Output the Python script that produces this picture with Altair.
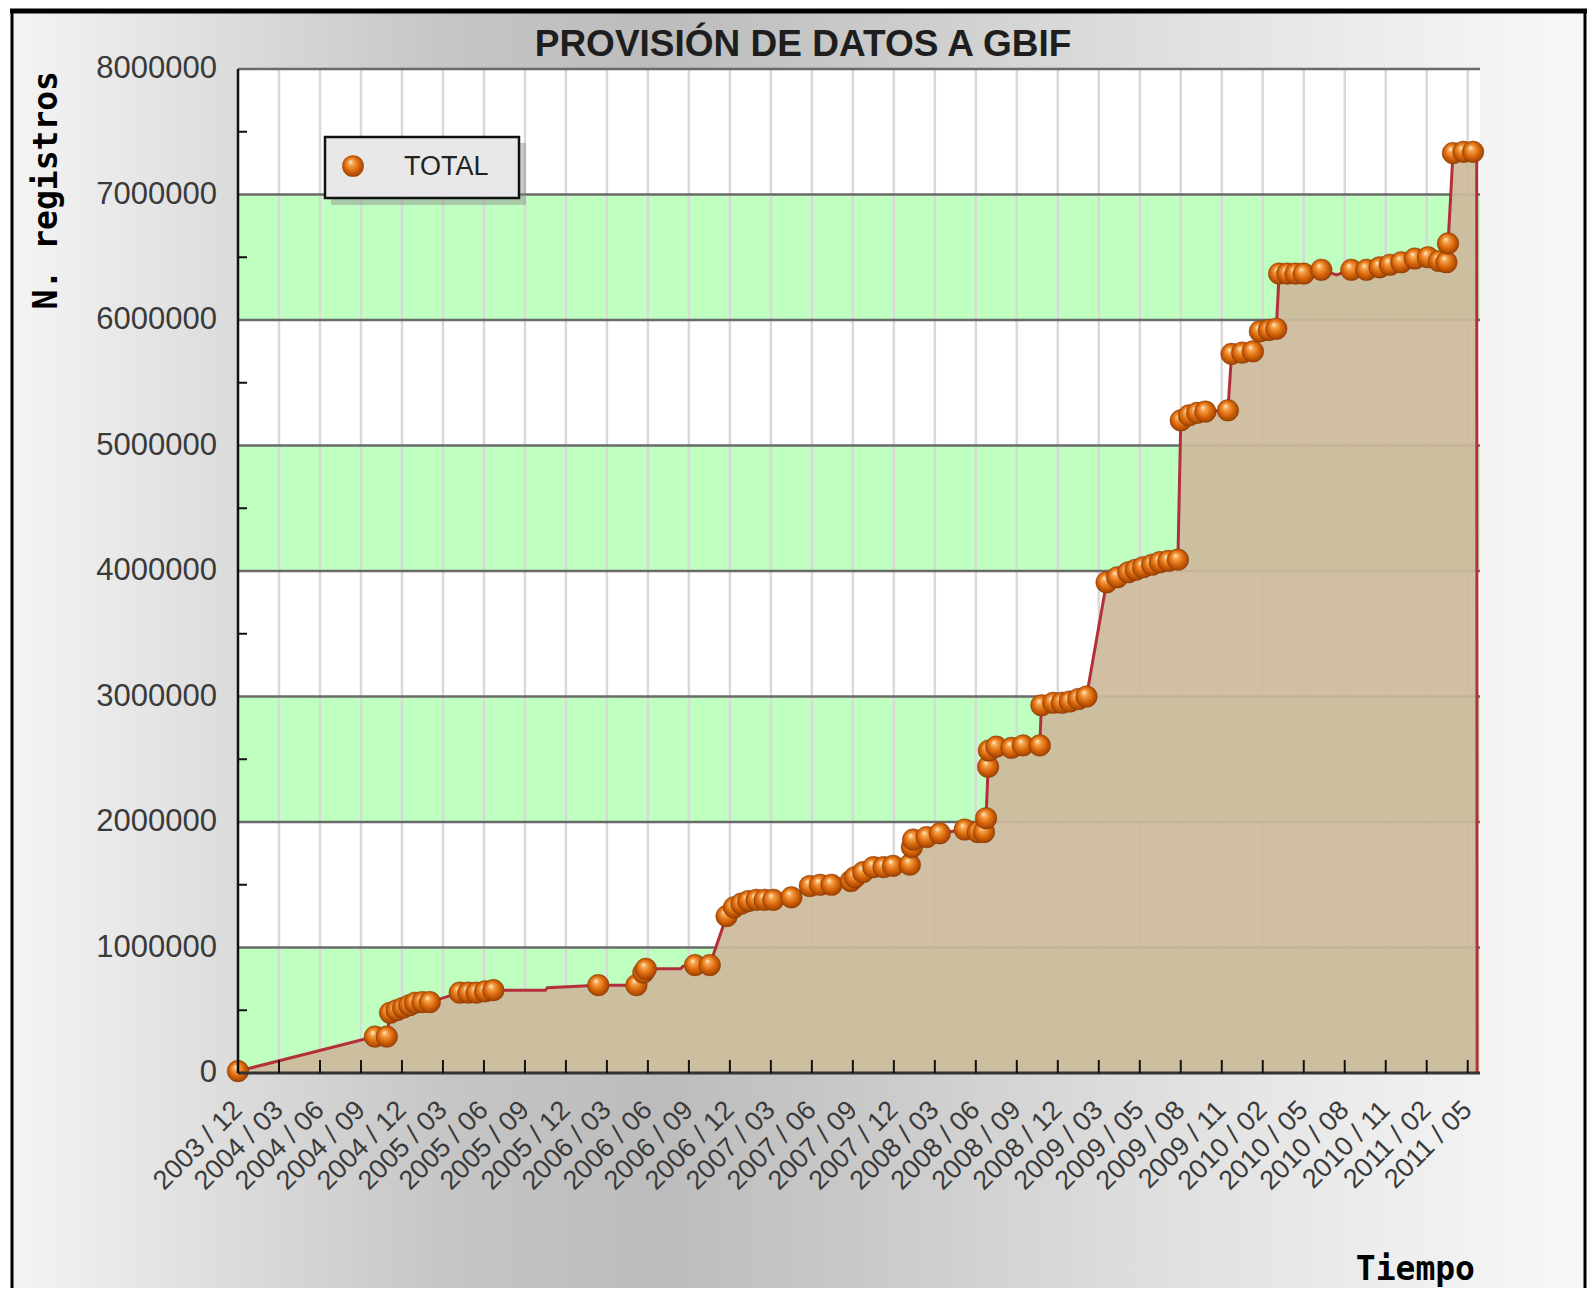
import altair as alt
import pandas as pd

W, H = 1242, 1004
PAD_R = 107

# ---------------- data ----------------
etiquetas_x = [
    "2003 / 12", "2004 / 03", "2004 / 06", "2004 / 09", "2004 / 12",
    "2005 / 03", "2005 / 06", "2005 / 09", "2005 / 12", "2006 / 03",
    "2006 / 06", "2006 / 09", "2006 / 12", "2007 / 03", "2007 / 06",
    "2007 / 09", "2007 / 12", "2008 / 03", "2008 / 06", "2008 / 09",
    "2008 / 12", "2009 / 03", "2009 / 05", "2009 / 08", "2009 / 11",
    "2010 / 02", "2010 / 05", "2010 / 08", "2010 / 11", "2011 / 02",
    "2011 / 05",
]
posiciones_ticks = list(range(len(etiquetas_x)))

# position along the time axis (in tick units) and cumulative records
posicion = [
    0.00, 3.34, 3.63, 3.71, 3.87, 4.03, 4.18, 4.32, 4.50, 4.68,
    5.41, 5.62, 5.82, 6.03, 6.23, 7.50, 7.55, 8.79, 9.72, 9.89,
    9.95, 10.80, 10.85, 11.15, 11.51, 11.92, 12.10, 12.28, 12.45, 12.65,
    12.85, 13.06, 13.50, 13.95, 14.20, 14.48, 14.95, 15.05, 15.25, 15.50,
    15.75, 15.98, 16.39, 16.44, 16.47, 16.80, 17.12, 17.73, 18.05, 18.20,
    18.25, 18.30, 18.32, 18.50, 18.87, 19.15, 19.56, 19.60, 19.89, 20.10,
    20.29, 20.50, 20.70, 21.19, 21.45, 21.72, 21.90, 22.08, 22.30, 22.49,
    22.70, 22.93, 23.00, 23.20, 23.40, 23.60, 24.15, 24.24, 24.50, 24.76,
    24.93, 25.15, 25.33, 25.40, 25.60, 25.80, 26.00, 26.43, 26.80, 27.16,
    27.53, 27.85, 28.10, 28.38, 28.71, 29.03, 29.30, 29.48, 29.52, 29.58,
    29.64, 29.90, 30.13, 30.22, 30.23,
]
registros = [
    15000, 290000, 290000, 480000, 500000, 520000, 540000, 560000, 565000, 565000,
    640000, 640000, 640000, 650000, 660000, 660000, 680000, 700000, 700000, 800000,
    830000, 830000, 850000, 860000, 860000, 1250000, 1320000, 1350000, 1370000, 1380000,
    1380000, 1380000, 1400000, 1490000, 1500000, 1500000, 1530000, 1560000, 1600000, 1640000,
    1640000, 1650000, 1660000, 1800000, 1860000, 1880000, 1910000, 1940000, 1920000, 1920000,
    2030000, 2440000, 2570000, 2600000, 2590000, 2610000, 2610000, 2930000, 2950000, 2950000,
    2960000, 2980000, 3000000, 3910000, 3950000, 3990000, 4010000, 4030000, 4050000, 4070000,
    4080000, 4090000, 5200000, 5240000, 5260000, 5270000, 5280000, 5730000, 5740000, 5750000,
    5910000, 5920000, 5930000, 6370000, 6370000, 6370000, 6370000, 6400000, 6360000, 6400000,
    6400000, 6420000, 6440000, 6460000, 6490000, 6500000, 6470000, 6460000, 6610000, 6960000,
    7330000, 7340000, 7340000, 7340000, 0,
]
# 1 = drawn with a marker, 0 = line vertex only
marcador = [
    1, 1, 1, 1, 1, 1, 1, 1, 1, 1,
    1, 1, 1, 1, 1, 0, 0, 1, 1, 1,
    1, 0, 0, 1, 1, 1, 1, 1, 1, 1,
    1, 1, 1, 1, 1, 1, 1, 1, 1, 1,
    1, 1, 1, 1, 1, 1, 1, 1, 1, 1,
    1, 1, 1, 1, 1, 1, 1, 1, 1, 1,
    1, 1, 1, 1, 1, 1, 1, 1, 1, 1,
    1, 1, 1, 1, 1, 1, 1, 1, 1, 1,
    1, 1, 1, 1, 1, 1, 1, 1, 0, 1,
    1, 1, 1, 1, 1, 1, 1, 1, 1, 0,
    1, 1, 1, 0, 0,
]

valores_y = [0, 1000000, 2000000, 3000000, 4000000, 5000000, 6000000, 7000000, 8000000]
lineas_h = [1000000, 2000000, 3000000, 4000000, 5000000, 6000000, 7000000, 8000000]
ticks_menores = [500000, 1500000, 2500000, 3500000, 4500000, 5500000, 6500000, 7500000]
bandas_ini = [0, 2000000, 4000000, 6000000]
bandas_fin = [1000000, 3000000, 5000000, 7000000]
lineas_v = list(range(1, len(etiquetas_x)))

serie = "TOTAL"
titulo = "PROVISIÓN DE DATOS A GBIF"
titulo_y = "N. registros"
titulo_x = "Tiempo"

# ---------------- tables ----------------
df = pd.DataFrame({"pos": posicion, "registros": registros, "marcador": marcador})
df_pts = df[df["marcador"] == 1]
df_bandas = pd.DataFrame({"ini": bandas_ini, "fin": bandas_fin})
df_h = pd.DataFrame({"y": lineas_h})
df_menor = pd.DataFrame({"y": ticks_menores})
df_yax = pd.DataFrame({"y": valores_y, "etiqueta": [str(v) for v in valores_y]})
df_v = pd.DataFrame({"u": lineas_v})
df_ticks = pd.DataFrame({"u": posiciones_ticks, "etiqueta": etiquetas_x})
uno = pd.DataFrame({"k": [0]})

SX = alt.Scale(domain=[0, 30.3], nice=False, zero=False)
SY = alt.Scale(domain=[0, 8000000], nice=False)

bola = {
    "gradient": "radial",
    "x1": 0.38, "y1": 0.3, "r1": 0.0,
    "x2": 0.5, "y2": 0.5, "r2": 0.58,
    "stops": [
        {"offset": 0.0, "color": "#fff1d6"},
        {"offset": 0.22, "color": "#f6a24a"},
        {"offset": 0.55, "color": "#dc6a0c"},
        {"offset": 1.0, "color": "#8a3400"},
    ],
}

fondo_grad = {
    "gradient": "linear",
    "x1": 0, "y1": 0, "x2": 1, "y2": 0,
    "stops": [
        {"offset": 0.0, "color": "#f4f4f4"},
        {"offset": 0.15, "color": "#dadada"},
        {"offset": 0.28, "color": "#c5c5c5"},
        {"offset": 0.41, "color": "#bcbcbc"},
        {"offset": 0.54, "color": "#c9c9c9"},
        {"offset": 0.70, "color": "#dcdcdc"},
        {"offset": 0.86, "color": "#ececec"},
        {"offset": 1.0, "color": "#f8f8f8"},
    ],
}

# ---------------- layers ----------------
fondo = alt.Chart(uno).mark_rect(fill=fondo_grad).encode(
    x=alt.value(-226), x2=alt.value(W + PAD_R - 2), y=alt.value(-60), y2=alt.value(H + 215)
)
bordes = alt.Chart(uno).mark_rule(color="#000000", strokeWidth=5).encode(
    x=alt.value(-228), x2=alt.value(W + PAD_R), y=alt.value(-58)
)
borde_izq = alt.Chart(uno).mark_rule(color="#000000", strokeWidth=3).encode(
    x=alt.value(-226), y=alt.value(-60), y2=alt.value(H + 215)
)
borde_der = alt.Chart(uno).mark_rule(color="#000000", strokeWidth=3).encode(
    x=alt.value(W + PAD_R - 2), y=alt.value(-60), y2=alt.value(H + 215)
)
fondo_plot = alt.Chart(uno).mark_rect(fill="#ffffff").encode(
    x=alt.value(0), x2=alt.value(W), y=alt.value(0), y2=alt.value(H)
)
bandas = alt.Chart(df_bandas).mark_rect(fill="#bfffbf").encode(
    x=alt.value(0), x2=alt.value(W),
    y=alt.Y("ini:Q", scale=SY, axis=None), y2="fin:Q",
)
rej_v = alt.Chart(df_v).mark_rule(color="#d9d9d9", strokeWidth=2.5).encode(
    x=alt.X("u:Q", scale=SX, axis=None), y=alt.value(0), y2=alt.value(H)
)
rej_h = alt.Chart(df_h).mark_rule(color="#6a6a6a", strokeWidth=2.5).encode(
    y=alt.Y("y:Q", scale=SY, axis=None), x=alt.value(0), x2=alt.value(W)
)
area = alt.Chart(df).mark_area(color="#ccba9c", opacity=0.93).encode(
    x=alt.X("pos:Q", scale=SX, axis=None),
    y=alt.Y("registros:Q", scale=SY, axis=None),
)
linea = alt.Chart(df).mark_line(color="#b3303a", strokeWidth=3).encode(
    x=alt.X("pos:Q", scale=SX, axis=None),
    y=alt.Y("registros:Q", scale=SY, axis=None),
)
puntos = alt.Chart(df_pts).mark_point(
    filled=True, fill=bola, shape="circle", size=470, opacity=1,
    stroke="#7a3000", strokeWidth=0.6, strokeOpacity=0.6,
).encode(
    x=alt.X("pos:Q", scale=SX, axis=None),
    y=alt.Y("registros:Q", scale=SY, axis=None),
)

# axes drawn from the tick arrays
dom_x = alt.Chart(uno).mark_rule(color="#333333", strokeWidth=3).encode(
    x=alt.value(0), x2=alt.value(W), y=alt.value(H)
)
dom_y = alt.Chart(uno).mark_rule(color="#111111", strokeWidth=2.5).encode(
    x=alt.value(0), y=alt.value(0), y2=alt.value(H)
)
ticks_x = alt.Chart(df_ticks).mark_rule(color="#111111", strokeWidth=2).encode(
    x=alt.X("u:Q", scale=SX, axis=None), y=alt.value(H), y2=alt.value(H - 13)
)
ticks_y = alt.Chart(df_menor).mark_rule(color="#111111", strokeWidth=2).encode(
    y=alt.Y("y:Q", scale=SY, axis=None), x=alt.value(0), x2=alt.value(9)
)
etiq_x = alt.Chart(df_ticks).mark_text(
    angle=315, align="right", baseline="middle", font="Liberation Sans",
    fontSize=27, color="#3a3a3a",
).encode(
    x=alt.X("u:Q", scale=SX, axis=None), y=alt.value(H + 33), text="etiqueta:N"
)
etiq_y = alt.Chart(df_yax).mark_text(
    align="right", baseline="middle", font="Liberation Sans",
    fontSize=31, color="#3a3a3a",
).encode(
    y=alt.Y("y:Q", scale=SY, axis=None), x=alt.value(-21), text="etiqueta:N"
)
tit_y = alt.Chart(uno).mark_text(
    text=titulo_y, angle=270, align="right", baseline="middle",
    font="DejaVu Sans Mono", fontSize=33, fontWeight="bold", color="#000000",
).encode(x=alt.value(-191), y=alt.value(2))
tit_x = alt.Chart(uno).mark_text(
    text=titulo_x, align="right", baseline="alphabetic",
    font="DejaVu Sans Mono", fontSize=33, fontWeight="bold", color="#000000",
).encode(x=alt.value(1237), y=alt.value(H + 207))

# legend
ley_sombra = alt.Chart(uno).mark_rect(fill="#8a8a8a", opacity=0.45).encode(
    x=alt.value(93), x2=alt.value(288), y=alt.value(74), y2=alt.value(136)
)
ley_caja = alt.Chart(uno).mark_rect(fill="#e8e8e8", stroke="#111111", strokeWidth=2.5).encode(
    x=alt.value(87), x2=alt.value(281), y=alt.value(68), y2=alt.value(129)
)
ley_bola = alt.Chart(uno).mark_point(
    filled=True, fill=bola, shape="circle", size=470, opacity=1
).encode(x=alt.value(115), y=alt.value(97))
ley_texto = alt.Chart(uno).mark_text(
    text=serie, font="Liberation Sans", fontSize=27, color="#222222",
    align="left", baseline="middle",
).encode(x=alt.value(166), y=alt.value(98))

texto_titulo = alt.Chart(uno).mark_text(
    text=titulo, font="Liberation Sans", fontSize=37, fontWeight="bold",
    color="#1e1e1e", align="center", baseline="alphabetic",
).encode(x=alt.value(565), y=alt.value(-13))

chart = alt.layer(
    fondo, borde_izq, borde_der, bordes, fondo_plot, bandas, rej_v, rej_h,
    area, linea, puntos, dom_x, dom_y, ticks_x, ticks_y,
    etiq_x, etiq_y, tit_y, tit_x,
    ley_sombra, ley_caja, ley_bola, ley_texto, texto_titulo,
).properties(
    width=W, height=H,
    autosize=alt.AutoSizeParams(type="none"),
    padding={"left": 230, "top": 61, "right": PAD_R, "bottom": 215},
).configure_view(strokeWidth=0)

chart.save("out.html", embed_options={"renderer": "svg", "actions": False})
